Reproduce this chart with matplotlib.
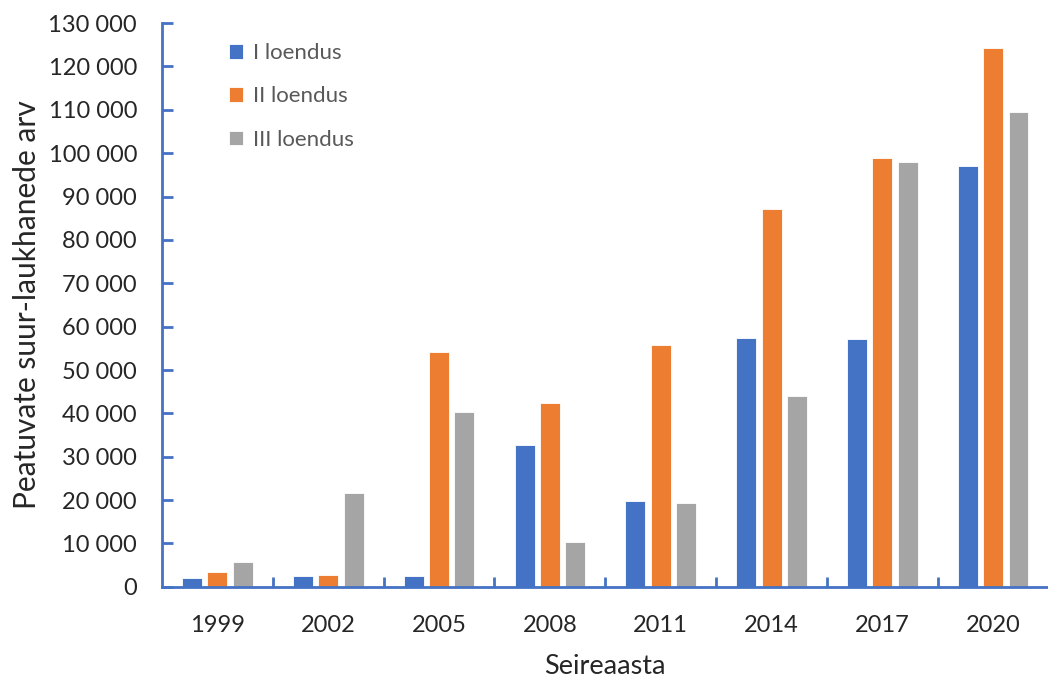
import numpy as np
import matplotlib.pyplot as plt
from matplotlib.ticker import FuncFormatter

years = ["1999", "2002", "2005", "2008", "2011", "2014", "2017", "2020"]
loendus_1 = [2100, 2500, 2500, 32700, 19700, 57500, 57200, 97100]
loendus_2 = [3500, 2800, 54200, 42400, 55700, 87100, 98900, 124300]
loendus_3 = [5800, 21700, 40300, 10400, 19300, 43900, 98000, 109600]
series_names = ["I loendus", "II loendus", "III loendus"]
colors = ["#4472C4", "#ED7D31", "#A5A5A5"]

plt.rcParams['font.family'] = ['Lato', 'DejaVu Sans']

fig = plt.figure(figsize=(10.48, 6.8), dpi=100)
ax = fig.add_axes([0.1546, 0.137, 0.846, 0.829])

x = np.arange(len(years))
w = 0.18
step = 0.228
for k, (vals, name, c) in enumerate(zip([loendus_1, loendus_2, loendus_3], series_names, colors)):
    ax.bar(x + (k - 1) * step, vals, width=w, color=c, label=name,
           edgecolor="white", linewidth=0.6, zorder=2)

ax.set_xlim(-0.5, len(years) - 0.5)
ax.set_ylim(0, 130000)
ax.set_yticks(np.arange(0, 130001, 10000))
ax.yaxis.set_major_formatter(FuncFormatter(lambda v, p: f"{int(v):,}".replace(",", " ")))

# category labels centred, tick marks on the group boundaries
ax.set_xticks(x)
ax.set_xticklabels(years)
ax.set_xticks(np.arange(0.5, len(years) - 0.5, 1), minor=True)
ax.tick_params(axis="x", which="major", length=0, pad=20, labelsize=17, labelcolor="#262626")
ax.tick_params(axis="x", which="minor", direction="in", length=7, width=2, color="#4472C4")
ax.tick_params(axis="y", direction="in", length=8, width=2, color="#4472C4",
               labelsize=17, labelcolor="#262626", pad=18)

for s in ["top", "right"]:
    ax.spines[s].set_visible(False)
for s in ["left", "bottom"]:
    ax.spines[s].set_color("#4472C4")
    ax.spines[s].set_linewidth(2)

ax.set_xlabel("Seireaasta", fontsize=19.5, color="#262626", labelpad=13)
ax.set_ylabel("Peatuvate suur-laukhanede arv", fontsize=21.5, color="#262626", labelpad=5)

leg = ax.legend(loc="upper left", bbox_to_anchor=(0.053, 1.0), frameon=False,
                fontsize=16, labelspacing=1.05, handlelength=0.65, handleheight=0.65,
                handletextpad=0.45)
for t in leg.get_texts():
    t.set_color("#595959")

fig.savefig("out.png", dpi=100)
